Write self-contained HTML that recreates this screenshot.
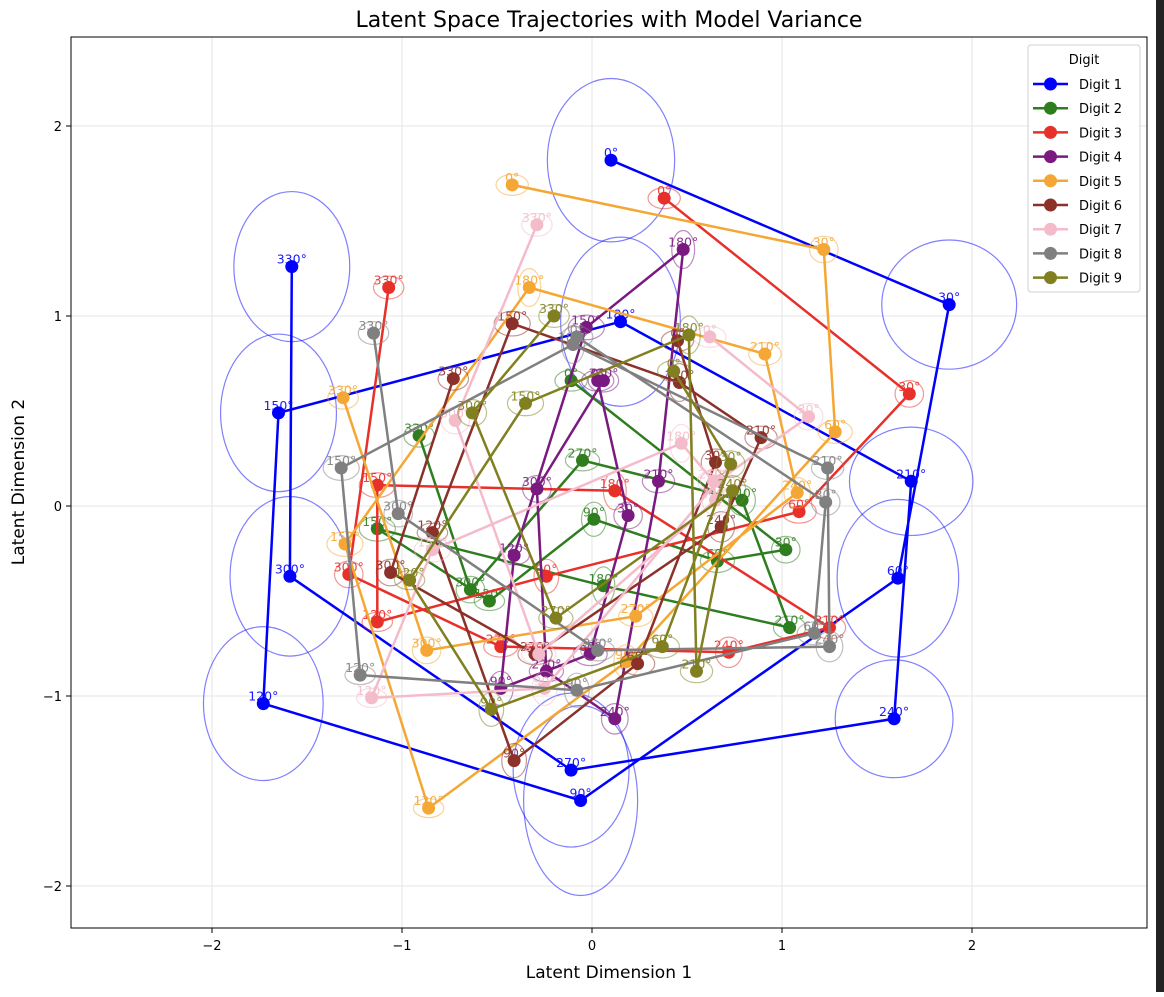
<!DOCTYPE html>
<html><head><meta charset="utf-8"><style>
body{margin:0;background:#fff;width:1164px;height:992px;overflow:hidden;font-family:"Liberation Sans","DejaVu Sans",sans-serif}
svg text{font-family:"DejaVu Sans","Liberation Sans",sans-serif}
</style></head><body>
<svg id="chart" width="1164" height="992" xmlns="http://www.w3.org/2000/svg">
<rect x="1156" y="0" width="8" height="992" fill="#222"/>
<text x="609" y="27" text-anchor="middle" font-size="22" fill="#000">Latent Space Trajectories with Model Variance</text>
<g id="grid"></g>
<g id="plot"></g>
<rect x="71" y="37" width="1076" height="891" fill="none" stroke="#000" stroke-width="1"/>
<g id="ticks"></g>
<text x="609" y="978" text-anchor="middle" font-size="17">Latent Dimension 1</text>
<text x="24" y="482" text-anchor="middle" font-size="17" transform="rotate(-90 24 482)">Latent Dimension 2</text>
<g id="legend"></g>
</svg>
<script>
const digits = ["Digit 1","Digit 2","Digit 3","Digit 4","Digit 5","Digit 6","Digit 7","Digit 8","Digit 9"];
const colors = ["#0000ff","#2e7d1e","#e8302a","#7a1a80","#f4a734","#8c302a","#f4bccb","#808080","#808020"];
const angles = [0,30,60,90,120,150,180,210,240,270,300,330];
const xTicks = [-2,-1,0,1,2];
const yTicks = [-2,-1,0,1,2];
const xs1 = [0.10,1.88,1.61,-0.06,-1.73,-1.65,0.15,1.68,1.59,-0.11,-1.59,-1.58];
const ys1 = [1.82,1.06,-0.38,-1.55,-1.04,0.49,0.97,0.13,-1.12,-1.39,-0.37,1.26];
const xs2 = [-0.11,1.02,0.66,0.01,-0.54,-1.13,0.06,1.04,0.79,-0.05,-0.64,-0.91];
const ys2 = [0.66,-0.23,-0.29,-0.07,-0.50,-0.12,-0.42,-0.64,0.03,0.24,-0.44,0.37];
const xs3 = [0.38,1.67,1.09,-0.24,-1.13,-1.13,0.12,1.25,0.72,-0.48,-1.28,-1.07];
const ys3 = [1.62,0.59,-0.03,-0.37,-0.61,0.11,0.08,-0.64,-0.77,-0.74,-0.36,1.15];
const xs4 = [0.03,0.19,-0.01,-0.48,-0.41,-0.03,0.48,0.35,0.12,-0.24,-0.29,0.06];
const ys4 = [0.66,-0.05,-0.78,-0.96,-0.26,0.94,1.35,0.13,-1.12,-0.87,0.09,0.66];
const xs5 = [-0.42,1.22,1.28,0.18,-0.86,-1.30,-0.33,0.91,1.08,0.23,-0.87,-1.31];
const ys5 = [1.69,1.35,0.39,-0.82,-1.59,-0.20,1.15,0.80,0.07,-0.58,-0.76,0.57];
const xs6 = [0.45,0.65,0.24,-0.41,-0.84,-0.42,0.46,0.89,0.68,-0.30,-1.06,-0.73];
const ys6 = [0.87,0.23,-0.83,-1.34,-0.14,0.96,0.65,0.36,-0.11,-0.78,-0.35,0.67];
const xs7 = [0.62,1.14,0.66,-0.25,-1.16,-0.84,0.47,0.64,0.65,-0.28,-0.72,-0.29];
const ys7 = [0.89,0.47,0.13,-0.96,-1.01,-0.23,0.33,0.13,0.03,-0.78,0.45,1.48];
const xs8 = [-0.08,1.23,1.17,-0.08,-1.22,-1.32,-0.10,1.24,1.25,0.03,-1.02,-1.15];
const ys8 = [0.89,0.02,-0.67,-0.97,-0.89,0.20,0.85,0.20,-0.74,-0.76,-0.04,0.91];
const xs9 = [0.43,0.73,0.37,-0.53,-0.96,-0.35,0.51,0.55,0.74,-0.19,-0.63,-0.20];
const ys9 = [0.71,0.22,-0.74,-1.07,-0.39,0.54,0.90,-0.87,0.08,-0.59,0.49,1.00];
const w1 = [0.67,0.71,0.64,0.60,0.63,0.61,0.63,0.65,0.62,0.61,0.63,0.61];
const h1 = [0.86,0.68,0.83,1.00,0.81,0.83,0.89,0.57,0.62,0.81,0.84,0.79];
const wSmall = [0.17,0.15,0.18,0.13,0.16,0.19,0.12,0.17,0.14,0.18,0.15,0.16];
const hSmall = [0.11,0.14,0.12,0.18,0.10,0.13,0.20,0.12,0.16,0.11,0.14,0.12];
const allX = [xs1,xs2,xs3,xs4,xs5,xs6,xs7,xs8,xs9];
const allY = [ys1,ys2,ys3,ys4,ys5,ys6,ys7,ys8,ys9];

const NS="http://www.w3.org/2000/svg";
const X0=592, Y0=506, S=190;
function sx(v){return X0+v*S;}
function sy(v){return Y0-v*S;}
function mk(t,a,p){const e=document.createElementNS(NS,t);for(const k in a)e.setAttribute(k,a[k]);p.appendChild(e);return e;}
const grid=document.getElementById('grid'),plot=document.getElementById('plot'),ticks=document.getElementById('ticks'),leg=document.getElementById('legend');
xTicks.forEach(t=>{
  const l=mk('line',{x1:sx(t),x2:sx(t),y1:37,y2:928,stroke:'#e6e6e6','stroke-width':1},grid);
  
  
  mk('line',{x1:sx(t),x2:sx(t),y1:928,y2:933,stroke:'#000'},ticks);
  const tx=mk('text',{x:sx(t),y:950,'text-anchor':'middle','font-size':13},ticks);
  tx.textContent=(t<0?'\u2212':'')+Math.abs(t);
  
  
});
yTicks.forEach(t=>{
  const l=mk('line',{x1:71,x2:1147,y1:sy(t),y2:sy(t),stroke:'#e6e6e6','stroke-width':1},grid);
  
  
  mk('line',{x1:66,x2:71,y1:sy(t),y2:sy(t),stroke:'#000'},ticks);
  const tx=mk('text',{x:62,y:sy(t)+5,'text-anchor':'end','font-size':13},ticks);
  tx.textContent=(t<0?'\u2212':'')+Math.abs(t);
  
  
});
digits.forEach((d,i)=>{
  const g=mk('g',{},plot);
  
  
  const xs=allX[i],ys=allY[i],c=colors[i];
  const W=i===0?w1:wSmall,H=i===0?h1:hSmall;
  xs.forEach((x,j)=>{
    const e=mk('ellipse',{cx:sx(x),cy:sy(ys[j]),rx:W[j]*S/2,ry:H[j]*S/2,fill:'none',stroke:c,'stroke-opacity':0.5,'stroke-width':1.2},g);
    
    
  });
  const pl=mk('polyline',{points:xs.map((x,j)=>sx(x)+','+sy(ys[j])).join(' '),fill:'none',stroke:c,'stroke-width':2.5},g);
  
  
  xs.forEach((x,j)=>{
    const m=mk('circle',{cx:sx(x),cy:sy(ys[j]),r:6.5,fill:c},g);
    
    
    const t=mk('text',{x:sx(x),y:sy(ys[j])-3,'text-anchor':'middle','font-size':12.5,fill:c,'fill-opacity':0.9},g);
    t.textContent=angles[j]+'\u00b0';
    
    
  });
});
const box=mk('rect',{x:1028,y:45,width:112,height:247,rx:3,fill:'#fff','fill-opacity':0.85,stroke:'#d0d0d0'},leg);


const lt=mk('text',{x:1084,y:64,'text-anchor':'middle','font-size':13},leg);
lt.textContent='Digit';


digits.forEach((d,i)=>{
  const y=84+i*24.2;
  const g=mk('g',{},leg);
  
  
  mk('line',{x1:1033,x2:1068,y1:y,y2:y,stroke:colors[i],'stroke-width':2.5},g);
  mk('circle',{cx:1050.5,cy:y,r:6.5,fill:colors[i]},g);
  const t=mk('text',{x:1079,y:y+5,'font-size':13},g);
  t.textContent=d;
});
</script>
</body></html>
